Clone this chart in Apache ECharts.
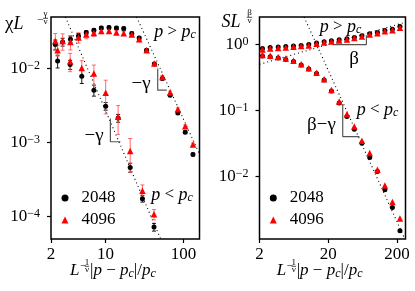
<!DOCTYPE html>
<html><head><meta charset="utf-8">
<script src="https://cdn.jsdelivr.net/npm/echarts@6/dist/echarts.min.js"></script>
<style>html,body{margin:0;padding:0;background:#fff}#c{width:415px;height:291px}</style>
</head><body><div id="c"></div>
<script>
// ---------- Left panel: chi L^{-gamma/nu} ----------
const leftXAbove = [2.27,2.82,3.55,4.50,5.66,7.09,8.83,11.07,13.8,17.1,21.7,27.0,33.6,42.2,53.5,67.2,84.5,105,132];
const leftAbove2048 = [0.0212,0.0230,0.0250,0.0277,0.0308,0.0331,0.0355,0.0360,0.0355,0.0349,0.0299,0.0260,0.01777,0.01161,0.00737,0.00439,0.00253,0.00139,0.000695];
const leftAbove4096 = [0.0237,0.0237,0.0230,0.0264,0.0289,0.0304,0.0324,0.0324,0.0308,0.0301,0.0289,0.0250,0.01777,0.01175,0.00775,0.00477,0.00284,0.00167,0.000948];
const leftAboveErr2048 = [0.0032,0.0028,0.0025,0.0022,0.0018,0.0017,0.0018,0.0018,0.0018,0.0017,0.0015,0.0013,0.0007,0.00046,0.0003,0.00018,0.0001,0.00006,0.00003];
const leftAboveErr4096 = [0.0062,0.0059,0.0051,0.0042,0.0035,0.0030,0.0026,0.0023,0.0018,0.0018,0.0014,0.0012,0.0007,0.00047,0.00031,0.00019,0.00011,0.00007,0.00004];

const leftXBelow = [2.43,3.52,4.96,7.09,10.04,14.5,20.7,29.7,41.8];
const leftBelow2048 = [0.01274,0.01139,0.00792,0.00513,0.00312,0.00215,0.000464,0.000175,0.0000726];
const leftBelow4096 = [0.01777,0.01262,0.01025,0.00861,0.00472,0.002236,0.00077,0.000224,0.0001077];
const leftBelowErr2048 = [0.0025,0.0016,0.0016,0.00087,0.00037,0.00026,0.000065,0.0000175,0.0000087];
const leftBelowErr4096 = [0.0030,0.0035,0.0026,0.0026,0.00227,0.00094,0.00037,0.000045,0.0000172];

const leftGuideAbove = [[25,0.05],[160,0.0007]];
const leftGuideBelow = [[3.06,0.05],[50.8,0.00005]];
const leftSlopeAbove = [[46.6,0.01006],[46.6,0.00513],[60.9,0.00513]];
const leftSlopeBelow = [[11.54,0.00213],[11.54,0.00103],[15.5,0.00103]];

const leftXTicks = [2,10,100];
const leftXTickLabels = ['2','10','100'];
const leftYTicks = [1e-4,1e-3,1e-2];
const leftYTickExps = ['−4','−3','−2'];

// ---------- Right panel: S L^{beta/nu} ----------
const rightX = [2.21,2.86,3.74,4.82,6.24,8.07,10.4,13.5,17.4,22.2,28.8,37.3,47.8,61.6,80,103.5,133,171,220];
const rightAbove2048 = [0.870,0.895,0.910,0.926,0.943,0.966,0.993,1.046,1.095,1.133,1.174,1.215,1.276,1.349,1.446,1.518,1.627,1.702,1.870];
const rightAbove4096 = [0.840,0.870,0.879,0.901,0.920,0.943,0.966,1.021,1.072,1.110,1.149,1.190,1.245,1.321,1.416,1.481,1.588,1.644,1.781];
const rightBelow2048 = [0.666,0.650,0.621,0.593,0.550,0.487,0.424,0.362,0.289,0.197,0.130,0.0806,0.052,0.0319,0.01936,0.0119,0.0063,0.0034,0.00151];
const rightBelow4096 = [0.689,0.673,0.643,0.614,0.565,0.499,0.434,0.373,0.296,0.204,0.136,0.0876,0.0569,0.0346,0.0226,0.01263,0.00731,0.0041,0.0023];

const rightGuideAbove = [[2,0.50],[265,2.17]];
const rightGuideBelow = [[8.89,2.6],[259,0.00113]];
const rightSlopeAbove = [[23.2,0.993],[71.6,0.993],[71.6,1.38]];
const rightSlopeBelow = [[32.4,0.1253],[32.4,0.0402],[56.7,0.0402]];

const rightXTicks = [2,20,200];
const rightXTickLabels = ['2','20','200'];
const rightYTicks = [1e-2,1e-1,1];
const rightYTickExps = ['−2','−1','0'];

const sizes = ['2048','4096'];

// ---------- build ----------
const FONT = 'Liberation Serif';
const BLACK = '#000';
const RED = '#ff0000';
const ERR_RED = '#ff5a5a';

function pick(ticks, labels, v) {
  let best = 0, bd = Infinity;
  ticks.forEach((t, i) => { const d = Math.abs(Math.log10(t) - Math.log10(v)); if (d < bd) { bd = d; best = i; } });
  return labels[best];
}
function zip(xs, ys) { return xs.map((x, i) => [x, ys[i]]); }

function scatter(name, xs, ys, g, symbol, color, size, z) {
  return { type: 'scatter', name, xAxisIndex: g, yAxisIndex: g, data: zip(xs, ys),
    symbol, symbolSize: size, itemStyle: { color, opacity: 1 }, z, silent: true, animation: false };
}
function errBars(xs, ys, es, g, color, z) {
  return { type: 'custom', xAxisIndex: g, yAxisIndex: g, z, silent: true, animation: false,
    data: xs.map((x, i) => [x, ys[i] - es[i], ys[i] + es[i]]),
    encode: { x: 0, y: [1, 2] },
    renderItem: (params, api) => {
      const x = api.value(0);
      const p1 = api.coord([x, api.value(2)]);
      const p2 = api.coord([x, api.value(1)]);
      const w = 2, st = { stroke: color, lineWidth: 0.9 };
      return { type: 'group', children: [
        { type: 'line', shape: { x1: p1[0], y1: p1[1], x2: p2[0], y2: p2[1] }, style: st },
        { type: 'line', shape: { x1: p1[0] - w, y1: p1[1], x2: p1[0] + w, y2: p1[1] }, style: st },
        { type: 'line', shape: { x1: p2[0] - w, y1: p2[1], x2: p2[0] + w, y2: p2[1] }, style: st }
      ]};
    }
  };
}
function guide(data, g) {
  return { type: 'line', xAxisIndex: g, yAxisIndex: g, data, showSymbol: false, symbol: 'none',
    lineStyle: { color: '#000', width: 1.1, type: [1, 3] }, z: 1, silent: true, animation: false };
}
function slope(data, g) {
  return { type: 'line', xAxisIndex: g, yAxisIndex: g, data, showSymbol: false, symbol: 'none',
    lineStyle: { color: '#555', width: 1.2 }, z: 1, silent: true, animation: false };
}

function xAxis(g, min, max, ticks, labels) {
  return { type: 'log', logBase: 10, gridIndex: g, min, max,
    axisLine: { show: false },
    axisTick: { show: true, inside: false, length: 4, customValues: ticks, lineStyle: { color: '#000', width: 1.2 } },
    axisLabel: { customValues: ticks, margin: 7, color: '#000', fontFamily: FONT, fontSize: 17,
      formatter: v => pick(ticks, labels, v) },
    splitLine: { show: false }, minorTick: { show: false } };
}
function yAxis(g, min, max, ticks, exps) {
  return { type: 'log', logBase: 10, gridIndex: g, min, max,
    axisLine: { show: false },
    axisTick: { show: true, inside: false, length: 4, customValues: ticks, lineStyle: { color: '#000', width: 1.2 } },
    axisLabel: { customValues: ticks, margin: 11, color: '#000',
      formatter: v => '{b|10}{s|' + pick(ticks, exps, v) + '}',
      rich: { b: { fontFamily: FONT, fontSize: 17, color: '#000' },
              s: { fontFamily: FONT, fontSize: 12, color: '#000', verticalAlign: 'top' } } },
    splitLine: { show: false }, minorTick: { show: false } };
}

const RICH = {
  n: { fontFamily: FONT, fontSize: 17, color: '#000' },
  a: { fontFamily: FONT, fontSize: 19, color: '#000' },
  i: { fontFamily: FONT, fontSize: 17, fontStyle: 'italic', color: '#000' },
  j: { fontFamily: FONT, fontSize: 18, fontStyle: 'italic', color: '#000' },
  c: { fontFamily: FONT, fontSize: 12, fontStyle: 'italic', color: '#000', verticalAlign: 'bottom' },
  g: { fontFamily: FONT, fontSize: 18, color: '#000' }
};
function txt(x, y, text, align) {
  return { type: 'text', z: 100, silent: true,
    style: { x, y, text, rich: RICH, fontFamily: FONT, fontSize: 17, fill: '#000',
      align: align || 'left', verticalAlign: 'middle' } };
}
function small(x, y, text, size) {
  return { type: 'text', z: 100, silent: true,
    style: { x, y, text, fontFamily: FONT, fontSize: size || 9, fill: '#000', align: 'center', verticalAlign: 'middle' } };
}
function hbar(x1, x2, y) {
  return { type: 'line', z: 100, silent: true, shape: { x1, y1: y, x2, y2: y }, style: { stroke: '#000', lineWidth: 0.7 } };
}
function xTitle(x0) {
  return [
    txt(x0, 271, '{i|L}'),
    small(x0 + 13, 266, '−', 11),
    small(x0 + 17, 262.5, '1', 9),
    hbar(x0 + 14.8, x0 + 19.2, 266.3),
    small(x0 + 17, 270, 'ν', 9),
    txt(x0 + 20, 271, '{n||}{i|p} − {i|p}{c|c}{n||/}{i|p}{c|c}')
  ];
}
function legend(left) {
  return { data: [{ name: sizes[0], icon: 'circle' }, { name: sizes[1], icon: 'triangle' }], orient: 'vertical',
    left, top: 189.5, padding: 0, itemWidth: 7, itemHeight: 7, itemGap: 5, selectedMode: false,
    textStyle: { fontFamily: FONT, fontSize: 17, color: '#000', padding: [0, 0, 0, 8] } };
}

const option = {
  backgroundColor: '#fff',
  animation: false,
  grid: [
    { left: 51, top: 17, width: 148.5, height: 222, show: true, borderColor: '#000', borderWidth: 1.5, backgroundColor: 'transparent' },
    { left: 259.5, top: 17, width: 146, height: 222, show: true, borderColor: '#000', borderWidth: 1.5, backgroundColor: 'transparent' }
  ],
  xAxis: [ xAxis(0, 2, 160, leftXTicks, leftXTickLabels), xAxis(1, 2, 265, rightXTicks, rightXTickLabels) ],
  yAxis: [ yAxis(0, 5e-5, 0.05, leftYTicks, leftYTickExps), yAxis(1, 1.13e-3, 2.6, rightYTicks, rightYTickExps) ],
  legend: [ legend(61.5), legend(269.8) ],
  series: [
    guide(leftGuideAbove, 0), guide(leftGuideBelow, 0),
    slope(leftSlopeAbove, 0), slope(leftSlopeBelow, 0),
    errBars(leftXAbove, leftAbove2048, leftAboveErr2048, 0, BLACK, 3),
    errBars(leftXBelow, leftBelow2048, leftBelowErr2048, 0, BLACK, 3),
    errBars(leftXAbove, leftAbove4096, leftAboveErr4096, 0, ERR_RED, 4),
    errBars(leftXBelow, leftBelow4096, leftBelowErr4096, 0, ERR_RED, 4),
    scatter(sizes[0], leftXAbove, leftAbove2048, 0, 'circle', BLACK, 5, 5),
    scatter(sizes[0], leftXBelow, leftBelow2048, 0, 'circle', BLACK, 5, 5),
    scatter(sizes[1], leftXAbove, leftAbove4096, 0, 'triangle', RED, 6.5, 6),
    scatter(sizes[1], leftXBelow, leftBelow4096, 0, 'triangle', RED, 6.5, 6),

    guide(rightGuideAbove, 1), guide(rightGuideBelow, 1),
    slope(rightSlopeAbove, 1), slope(rightSlopeBelow, 1),
    scatter(sizes[0], rightX, rightAbove2048, 1, 'circle', BLACK, 5, 5),
    scatter(sizes[0], rightX, rightBelow2048, 1, 'circle', BLACK, 5, 5),
    scatter(sizes[1], rightX, rightAbove4096, 1, 'triangle', RED, 6.5, 6),
    scatter(sizes[1], rightX, rightBelow4096, 1, 'triangle', RED, 6.5, 6)
  ],
  graphic: [
    // left y title
    txt(5, 24, '{a|χ}{j|L}'),
    small(40, 20, '−', 11),
    small(45.5, 14, 'γ', 9),
    hbar(43, 48, 18.3),
    small(45.5, 22, 'ν', 9),
    // right y title
    txt(221.5, 22, '{j|SL}'),
    small(249.5, 13, 'β', 9),
    hbar(246.8, 252.2, 17.3),
    small(249.5, 21, 'ν', 9),
    // x titles
    ...xTitle(70), ...xTitle(276.7),
    // annotations left
    txt(175, 32, '{j|p} > {j|p}{c|c}', 'center'),
    txt(172, 195, '{j|p} < {j|p}{c|c}', 'center'),
    txt(141, 84, '{a|−γ}', 'center'),
    txt(94, 136, '{a|−γ}', 'center'),
    // annotations right
    txt(340.5, 27, '{j|p} > {j|p}{c|c}', 'center'),
    txt(377.5, 110, '{j|p} < {j|p}{c|c}', 'center'),
    txt(354, 59, '{a|β}', 'center'),
    txt(321.5, 125, '{a|β−γ}', 'center')
  ]
};
const chart = echarts.init(document.getElementById('c'), null, { renderer: 'canvas' });
chart.setOption(option);
</script></body></html>
